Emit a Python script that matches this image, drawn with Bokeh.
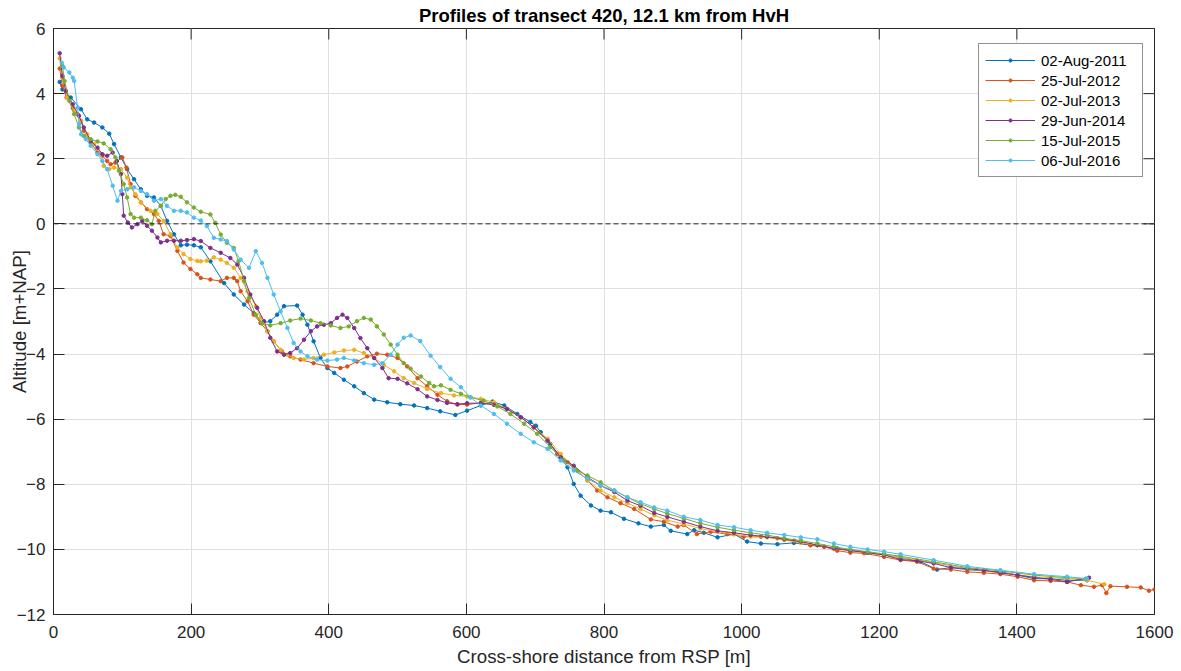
import math
from bokeh.plotting import figure
from bokeh.models import Span, FixedTicker, Legend
from bokeh.embed import file_html
from bokeh.resources import INLINE

# ---- data: (cross-shore distance [m], altitude [m+NAP]) ----
profile_2011 = [(9, 4.36), (13, 4.13), (25, 3.88), (40, 3.52), (49, 3.21), (59, 3.11), (71, 2.96), (81, 2.77),
    (88, 2.45), (98, 2.04), (107, 1.68), (117, 1.37), (127, 1.06), (136, 0.86), (146, 0.81), (156, 0.55),
    (165, 0.09), (175, -0.32), (185, -0.66), (194, -0.64), (204, -0.66), (214, -0.72), (228, -1.15),
    (248, -1.82), (262, -2.17), (277, -2.48), (291, -2.74), (303, -3.05), (315, -2.99), (325, -2.79),
    (335, -2.53), (354, -2.51), (362, -2.79), (369, -3.1), (378, -3.61), (388, -4.12), (398, -4.43),
    (408, -4.58), (422, -4.79), (437, -4.99), (451, -5.2), (466, -5.4), (485, -5.48), (504, -5.54),
    (524, -5.58), (543, -5.66), (562, -5.76), (584, -5.87), (601, -5.74), (621, -5.58), (638, -5.46),
    (655, -5.58), (674, -5.84), (693, -6.09), (701, -6.2), (708, -6.4), (722, -6.76), (737, -7.17),
    (747, -7.48), (756, -7.99), (766, -8.35), (781, -8.65), (795, -8.81), (810, -8.86), (829, -9.06),
    (850, -9.2), (868, -9.3), (887, -9.25), (897, -9.43), (921, -9.53), (931, -9.41), (945, -9.49),
    (965, -9.63), (989, -9.53), (1008, -9.76), (1028, -9.82), (1052, -9.84), (1076, -9.8), (1100, -9.87),
    (1120, -9.92), (1139, -9.97), (1158, -10.02), (1183, -10.1), (1207, -10.17), (1231, -10.25),
    (1260, -10.38), (1284, -10.62), (1304, -10.56), (1328, -10.62), (1352, -10.66), (1376, -10.69),
    (1401, -10.79), (1425, -10.9), (1449, -10.9), (1473, -10.95), (1502, -10.95)]

profile_2012 = [(9, 4.77), (13, 4.24), (19, 3.88), (28, 3.55), (35, 3.37), (40, 3.16), (44, 2.86), (54, 2.5),
    (64, 2.19), (71, 2.09), (78, 1.93), (83, 1.83), (90, 1.88), (100, 2.04), (106, 1.73), (112, 1.22),
    (119, 0.86), (127, 0.66), (136, 0.45), (146, 0.3), (153, 0.09), (160, -0.32), (170, -0.37),
    (180, -0.83), (189, -1.19), (199, -1.39), (209, -1.55), (214, -1.66), (228, -1.71), (243, -1.76),
    (252, -1.66), (262, -1.66), (267, -1.76), (272, -2.07), (282, -2.38), (291, -2.79), (301, -3.05),
    (311, -3.3), (320, -3.61), (332, -3.92), (344, -4.07), (359, -4.17), (378, -4.28), (398, -4.38),
    (417, -4.43), (427, -4.38), (441, -4.23), (456, -4.07), (470, -3.99), (485, -4.02), (500, -4.12),
    (514, -4.38), (529, -4.74), (543, -4.99), (558, -5.25), (572, -5.45), (587, -5.55), (601, -5.55),
    (621, -5.5), (640, -5.53), (659, -5.69), (679, -5.94), (698, -6.25), (718, -6.66), (732, -7.07),
    (747, -7.32), (761, -7.58), (776, -7.88), (790, -8.19), (805, -8.4), (824, -8.58), (844, -8.76),
    (868, -9.08), (887, -9.15), (907, -9.3), (916, -9.25), (935, -9.53), (955, -9.46), (979, -9.53),
    (1003, -9.61), (1028, -9.61), (1052, -9.66), (1076, -9.73), (1100, -9.87), (1120, -9.92),
    (1139, -10.04), (1158, -10.1), (1178, -10.12), (1207, -10.23), (1231, -10.33), (1255, -10.38),
    (1279, -10.59), (1304, -10.62), (1328, -10.69), (1352, -10.72), (1376, -10.76), (1401, -10.84),
    (1425, -10.95), (1449, -10.97), (1473, -11.0), (1493, -11.1), (1512, -11.15), (1524, -11.1),
    (1530, -11.34), (1536, -11.13), (1560, -11.15), (1580, -11.17), (1592, -11.27), (1600, -11.23)]

profile_2013 = [(9, 5.08), (13, 4.49), (20, 3.88), (30, 3.47), (40, 3.16), (49, 2.75), (59, 2.45), (69, 2.14),
    (73, 1.78), (81, 1.68), (88, 1.73), (98, 1.68), (107, 1.42), (112, 1.12), (119, 0.91), (127, 0.66),
    (141, 0.4), (151, 0.3), (160, 0.09), (170, -0.32), (180, -0.73), (189, -0.93), (199, -1.08),
    (209, -1.14), (214, -1.15), (223, -1.13), (233, -1.03), (243, -1.1), (252, -1.2), (262, -1.35),
    (272, -1.66), (282, -2.07), (294, -2.53), (301, -2.89), (311, -3.3), (320, -3.61), (330, -3.87),
    (340, -4.02), (349, -4.12), (364, -4.17), (378, -4.12), (393, -4.02), (408, -3.95), (422, -3.89),
    (437, -3.87), (451, -3.97), (466, -4.12), (480, -4.33), (495, -4.53), (509, -4.74), (524, -4.89),
    (543, -5.07), (563, -5.2), (582, -5.27), (601, -5.3), (621, -5.38), (640, -5.48), (659, -5.69),
    (679, -5.94), (698, -6.25), (718, -6.6), (737, -7.07), (756, -7.48), (776, -7.88), (795, -8.19),
    (815, -8.4), (834, -8.58), (853, -8.76), (873, -8.95), (892, -9.1), (916, -9.22), (940, -9.36),
    (965, -9.46), (989, -9.53), (1013, -9.61), (1037, -9.63), (1062, -9.71), (1086, -9.8), (1110, -9.87),
    (1134, -9.97), (1158, -10.04), (1183, -10.1), (1207, -10.17), (1231, -10.25), (1279, -10.41),
    (1328, -10.59), (1376, -10.72), (1425, -10.84), (1473, -10.9), (1502, -10.95), (1527, -11.07)]

profile_2014 = [(9, 5.24), (13, 4.54), (18, 4.08), (28, 3.67), (37, 3.32), (44, 2.96), (54, 2.55), (64, 2.34),
    (71, 2.14), (78, 2.09), (86, 2.19), (92, 1.93), (98, 1.53), (100, 0.91), (102, 0.25), (108, 0.04),
    (114, -0.11), (122, -0.01), (129, 0.09), (136, -0.06), (143, -0.21), (151, -0.42), (156, -0.57),
    (165, -0.52), (175, -0.52), (185, -0.52), (194, -0.5), (204, -0.47), (214, -0.53), (228, -0.74),
    (243, -0.89), (257, -1.05), (267, -1.25), (277, -1.66), (286, -2.17), (296, -2.58), (306, -2.99),
    (315, -3.5), (325, -3.92), (335, -4.02), (344, -3.97), (354, -3.82), (364, -3.56), (374, -3.3),
    (383, -3.15), (393, -3.1), (403, -3.05), (412, -2.89), (420, -2.79), (427, -2.89), (437, -3.2),
    (446, -3.51), (456, -3.82), (466, -4.12), (478, -4.43), (487, -4.74), (500, -4.76), (514, -4.9),
    (529, -5.08), (543, -5.3), (558, -5.41), (572, -5.5), (587, -5.54), (601, -5.51), (621, -5.51),
    (640, -5.56), (659, -5.69), (679, -5.94), (698, -6.25), (718, -6.66), (737, -7.17), (756, -7.43),
    (776, -7.78), (795, -8.04), (815, -8.24), (834, -8.5), (853, -8.66), (873, -8.88), (892, -9.0),
    (916, -9.15), (940, -9.3), (965, -9.43), (989, -9.49), (1013, -9.56), (1037, -9.61), (1062, -9.69),
    (1086, -9.76), (1110, -9.87), (1134, -9.97), (1158, -10.04), (1183, -10.1), (1207, -10.17),
    (1231, -10.31), (1255, -10.35), (1279, -10.43), (1304, -10.56), (1328, -10.59), (1352, -10.64),
    (1376, -10.72), (1401, -10.79), (1425, -10.86), (1449, -10.92), (1473, -11.0), (1505, -10.87)]

profile_2015 = [(13, 4.85), (16, 4.39), (23, 3.78), (30, 3.37), (37, 2.96), (44, 2.7), (54, 2.6), (64, 2.53),
    (73, 2.47), (83, 2.29), (90, 2.04), (95, 1.63), (102, 1.22), (107, 0.81), (112, 0.3), (117, 0.19),
    (127, 0.19), (136, 0.11), (143, -0.01), (148, 0.4), (156, 0.55), (163, 0.76), (170, 0.86), (177, 0.89),
    (185, 0.83), (194, 0.66), (204, 0.5), (214, 0.37), (228, 0.29), (235, 0.03), (243, -0.33), (252, -0.58),
    (262, -0.74), (269, -1.15), (277, -1.76), (284, -2.28), (294, -2.79), (303, -3.05), (315, -3.12),
    (330, -3.05), (344, -2.97), (359, -2.91), (374, -2.97), (388, -3.05), (403, -3.12), (417, -3.2),
    (429, -3.15), (441, -2.99), (451, -2.89), (461, -2.94), (470, -3.15), (480, -3.4), (490, -3.71),
    (500, -4.02), (509, -4.28), (519, -4.45), (534, -4.69), (546, -4.89), (553, -4.99), (563, -4.96),
    (577, -5.1), (592, -5.22), (606, -5.33), (625, -5.43), (645, -5.61), (664, -5.84), (684, -6.14),
    (703, -6.45), (722, -6.86), (742, -7.27), (761, -7.58), (776, -7.73), (795, -7.94), (815, -8.19),
    (834, -8.4), (853, -8.6), (873, -8.76), (892, -8.9), (916, -9.05), (940, -9.2), (965, -9.32),
    (989, -9.41), (1013, -9.49), (1037, -9.56), (1062, -9.66), (1086, -9.73), (1110, -9.82), (1134, -9.92),
    (1158, -10.0), (1183, -10.07), (1207, -10.14), (1231, -10.21), (1279, -10.38), (1328, -10.56),
    (1376, -10.66), (1425, -10.79), (1473, -10.87), (1500, -10.9)]

profile_2016 = [(12, 4.95), (15, 4.8), (23, 4.65), (28, 4.49), (30, 4.39), (35, 3.57), (37, 3.06), (40, 2.75),
    (47, 2.6), (54, 2.4), (64, 2.14), (71, 1.93), (78, 1.68), (86, 1.17), (93, 0.71), (98, 1.01), (107, 1.06),
    (117, 1.12), (127, 1.01), (136, 0.91), (146, 0.71), (156, 0.76), (165, 0.55), (175, 0.4), (185, 0.4),
    (194, 0.35), (204, 0.19), (214, 0.1), (223, -0.07), (233, -0.43), (243, -0.48), (252, -0.53),
    (262, -0.79), (272, -1.1), (284, -1.35), (294, -0.84), (303, -1.2), (311, -1.66), (320, -2.17),
    (330, -2.69), (340, -3.2), (349, -3.66), (359, -3.92), (369, -4.07), (383, -4.17), (398, -4.2),
    (412, -4.17), (422, -4.12), (437, -4.2), (451, -4.28), (466, -4.33), (478, -4.28), (490, -4.02),
    (500, -3.71), (509, -3.5), (519, -3.43), (533, -3.6), (548, -4.05), (562, -4.4), (577, -4.76),
    (592, -5.02), (606, -5.33), (621, -5.58), (640, -5.84), (659, -6.14), (679, -6.45), (698, -6.71),
    (718, -6.91), (737, -7.27), (756, -7.58), (776, -7.83), (795, -8.04), (815, -8.19), (834, -8.4),
    (853, -8.55), (873, -8.71), (892, -8.81), (916, -9.0), (940, -9.1), (965, -9.25), (989, -9.32),
    (1013, -9.41), (1037, -9.49), (1062, -9.56), (1086, -9.63), (1110, -9.69), (1134, -9.82), (1158, -9.92),
    (1183, -10.0), (1207, -10.07), (1231, -10.15), (1279, -10.33), (1328, -10.52), (1376, -10.64),
    (1425, -10.76), (1473, -10.84), (1502, -10.9)]

survey_labels = ["02-Aug-2011", "25-Jul-2012", "02-Jul-2013", "29-Jun-2014", "15-Jul-2015", "06-Jul-2016"]
profiles = [profile_2011, profile_2012, profile_2013, profile_2014, profile_2015, profile_2016]
colors = ["#0072BD", "#D95319", "#EDB120", "#7E2F8E", "#77AC30", "#4DBEEE"]

x_ticks = [0, 200, 400, 600, 800, 1000, 1200, 1400, 1600]
y_ticks = [-12, -10, -8, -6, -4, -2, 0, 2, 4, 6]
X_MIN, X_MAX, Y_MIN, Y_MAX = 0, 1600, -12, 6

FONT = "Liberation Sans"
DARK = "#262626"

p = figure(width=1181, height=671, x_range=(X_MIN, X_MAX), y_range=(Y_MIN, Y_MAX),
           output_backend="svg", toolbar_location=None,
           min_border_left=53, min_border_right=27, min_border_top=28, min_border_bottom=57,
           title="Profiles of transect 420, 12.1 km from HvH")
p.background_fill_color = "white"
p.border_fill_color = "white"
p.outline_line_color = DARK
p.outline_line_width = 1

p.title.align = "center"
p.title.vertical_align = "top"
p.title.text_font = FONT
p.title.text_font_size = "18.5px"
p.title.text_font_style = "bold"
p.title.text_color = "black"
p.title.text_line_height = 0.8
p.title.standoff = 2
p.title.offset = 0

for ax in (p.xaxis[0], p.yaxis[0]):
    ax.major_tick_in = 11
    ax.major_tick_out = 0
    ax.minor_tick_line_color = None
    ax.axis_line_color = DARK
    ax.major_tick_line_color = DARK
    ax.major_label_text_font = FONT
    ax.major_label_text_font_size = "17px"
    ax.major_label_text_color = DARK
    ax.axis_label_text_font = FONT
    ax.axis_label_text_font_size = "18.7px"
    ax.axis_label_text_font_style = "normal"
    ax.axis_label_text_color = DARK

p.xaxis.ticker = FixedTicker(ticks=x_ticks)
p.yaxis.ticker = FixedTicker(ticks=y_ticks)
p.xaxis.axis_label = "Cross-shore distance from RSP [m]"
p.yaxis.axis_label = "Altitude [m+NAP]"
p.xaxis.major_label_standoff = 11
p.xaxis.axis_label_standoff = 5
p.yaxis.major_label_standoff = 8
p.yaxis.axis_label_standoff = -16

p.xgrid.grid_line_color = "#dfdfdf"
p.ygrid.grid_line_color = "#dfdfdf"
p.xgrid.ticker = FixedTicker(ticks=x_ticks)
p.ygrid.ticker = FixedTicker(ticks=y_ticks)

p.add_layout(Span(location=0, dimension="width", line_color=DARK, line_width=1, line_dash="5 3"))

# box ticks on the top and right edges (inward, half of the dash is clipped by the frame)
p.scatter(x_ticks, [Y_MAX] * len(x_ticks), marker="dash", angle=math.pi / 2, size=22,
          line_color=DARK, line_width=1)
p.scatter([X_MAX] * len(y_ticks), y_ticks, marker="dash", size=22, line_color=DARK, line_width=1)

items = []
for lab, prof, col in zip(survey_labels, profiles, colors):
    xs = [pt[0] for pt in prof]
    ys = [pt[1] for pt in prof]
    r1 = p.line(xs, ys, line_color=col, line_width=1)
    r2 = p.scatter(xs, ys, marker="circle", size=3.5, fill_color=col, line_color=col)
    items.append((lab, [r1, r2]))

legend = Legend(items=items, location=(925, 437))
legend.label_text_font = FONT
legend.label_text_font_size = "15px"
legend.label_text_color = "black"
legend.border_line_color = DARK
legend.border_line_width = 1
legend.background_fill_color = "white"
legend.background_fill_alpha = 1
legend.glyph_width = 50
legend.glyph_height = 8
legend.label_height = 20
legend.label_standoff = 6
legend.label_width = 95
legend.spacing = 0
legend.padding = 6
legend.margin = 0
p.add_layout(legend, "center")

open("out.html", "w").write(file_html(p, INLINE))
